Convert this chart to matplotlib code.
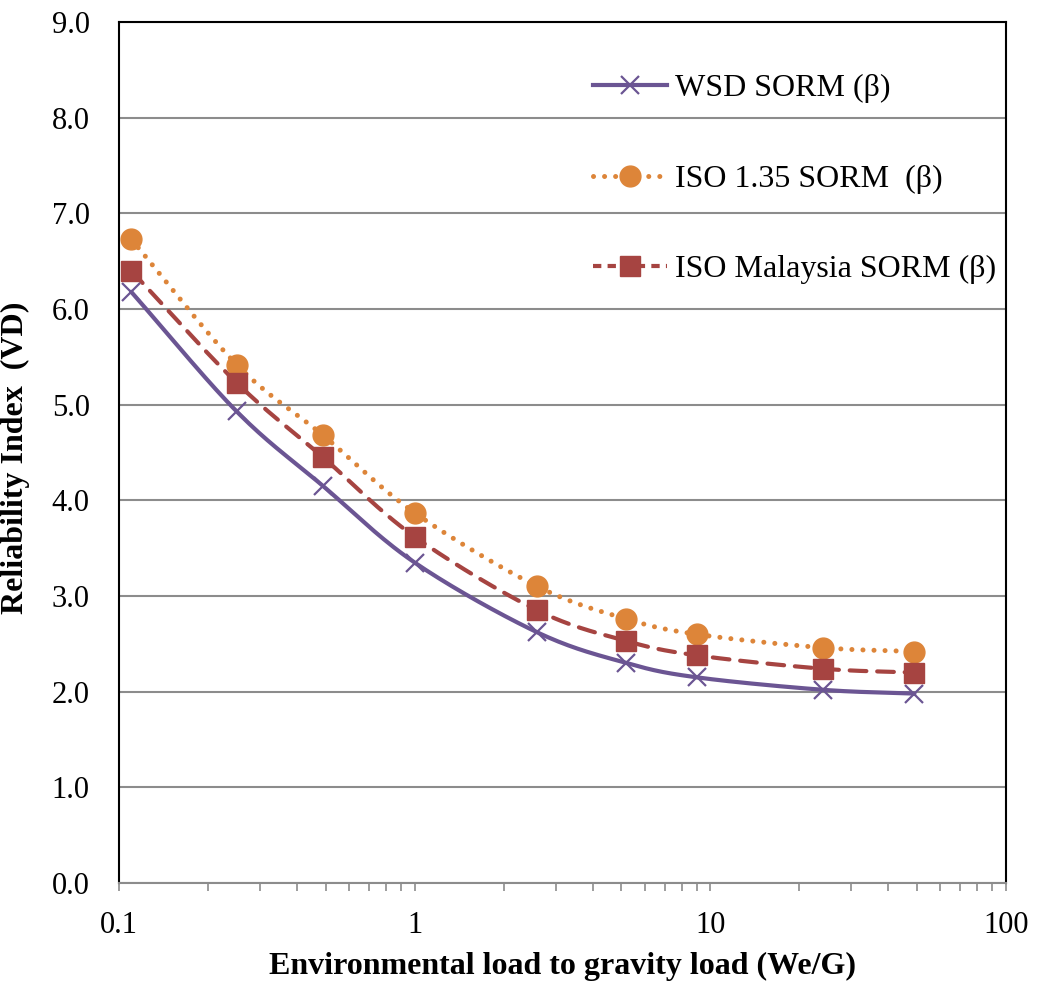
import matplotlib.pyplot as plt
import numpy as np
from matplotlib.lines import Line2D
from matplotlib.ticker import FixedLocator, LogLocator, NullFormatter

# values
load_ratio = [0.11, 0.25, 0.49, 1.0, 2.6, 5.2, 9.0, 24.0, 49.0]
wsd_sorm = [6.18, 4.93, 4.15, 3.35, 2.62, 2.30, 2.15, 2.02, 1.98]
iso_135_sorm = [6.73, 5.42, 4.68, 3.87, 3.10, 2.76, 2.60, 2.46, 2.42]
iso_malaysia_sorm = [6.40, 5.23, 4.45, 3.62, 2.85, 2.53, 2.38, 2.24, 2.20]

labels = ["WSD SORM (\u03b2)", "ISO 1.35 SORM  (\u03b2)", "ISO Malaysia SORM (\u03b2)"]

PURPLE = "#6b5593"
ORANGE = "#dd8539"
RED = "#a64441"

plt.rcParams["font.family"] = ["Liberation Serif", "DejaVu Serif"]


def smooth(x, y, n=30):
    # Catmull-Rom through the points, worked out roughly in screen space
    # (log x and y scaled like the axes) the way Excel smooths lines
    px = np.log10(np.asarray(x, float)) * 296.0
    py = np.asarray(y, float) * 95.7
    pts = np.column_stack([px, py])
    pts = np.vstack([pts[0] - (pts[1] - pts[0]), pts, pts[-1] + (pts[-1] - pts[-2])])
    out = []
    t = np.linspace(0, 1, n)[:, None]
    for i in range(1, len(pts) - 2):
        p0, p1, p2, p3 = pts[i - 1], pts[i], pts[i + 1], pts[i + 2]
        seg = 0.5 * (2 * p1 + (-p0 + p2) * t + (2 * p0 - 5 * p1 + 4 * p2 - p3) * t**2
                     + (-p0 + 3 * p1 - 3 * p2 + p3) * t**3)
        out.append(seg if i == 1 else seg[1:])
    out = np.vstack(out)
    return 10 ** (out[:, 0] / 296.0), out[:, 1] / 95.7


fig = plt.figure(figsize=(10.38, 9.83), dpi=100)
ax = fig.add_axes([0.1146, 0.1017, 0.8546, 0.8759])

sx, sy = smooth(load_ratio, wsd_sorm)
ax.plot(sx, sy, color=PURPLE, lw=3.0, solid_capstyle="round", zorder=3)
ax.plot(load_ratio, wsd_sorm, ls="none", marker="x", ms=13, mew=1.6, color=PURPLE, zorder=4)

sx, sy = smooth(load_ratio, iso_135_sorm)
ax.plot(sx, sy, color=ORANGE, lw=3.6, ls=(0, (0.01, 2.2)), dash_capstyle="round", zorder=3)
ax.plot(load_ratio, iso_135_sorm, ls="none", marker="o", ms=15, color=ORANGE, mec=ORANGE, zorder=4)

sx, sy = smooth(load_ratio, iso_malaysia_sorm)
ax.plot(sx, sy, color=RED, lw=3.0, ls=(0, (4, 2.6)), dash_capstyle="round", zorder=3)
ax.plot(load_ratio, iso_malaysia_sorm, ls="none", marker="s", ms=14, color=RED, mec=RED, zorder=4)

ax.set_xscale("log")
ax.set_xlim(0.1, 100)
ax.set_ylim(0, 9)
ax.set_yticks(np.arange(0, 9.5, 1.0))
ax.set_yticklabels([f"{v:.1f}" for v in np.arange(0, 9.5, 1.0)])
ax.xaxis.set_major_locator(FixedLocator([0.1, 1, 10, 100]))
ax.set_xticklabels(["0.1", "1", "10", "100"])
ax.xaxis.set_minor_locator(LogLocator(base=10, subs=np.arange(2, 10)))
ax.xaxis.set_minor_formatter(NullFormatter())

ax.grid(axis="y", color="#8c8c8c", lw=1.5)
ax.set_axisbelow(True)

for side in ["top", "left", "right"]:
    ax.spines[side].set_color("black")
    ax.spines[side].set_linewidth(1.5)
ax.spines["bottom"].set_color("#8c8c8c")
ax.spines["bottom"].set_linewidth(1.5)

ax.tick_params(axis="y", length=0, pad=21, labelsize=22)
ax.tick_params(axis="x", which="both", direction="out", length=6, width=1.2,
               color="#8c8c8c", pad=14, labelsize=22)

ax.set_xlabel("Environmental load to gravity load (We/G)", fontsize=23, fontweight="bold", labelpad=9)
ax.set_ylabel("Reliability Index  (VD)", fontsize=23, fontweight="bold", labelpad=13)
ax.yaxis.set_label_coords(-0.1, 0.494)

handles = [
    Line2D([], [], color=PURPLE, lw=3.0, marker="x", ms=13, mew=1.6),
    Line2D([], [], color=ORANGE, lw=3.6, ls=(0, (0.01, 2.2)), dash_capstyle="round",
           marker="o", ms=15),
    Line2D([], [], color=RED, lw=3.0, ls=(0, (2, 1.5)), marker="s", ms=14),
]
ax.legend(handles, labels, loc="upper right", bbox_to_anchor=(1.0135, 0.966), frameon=False,
          fontsize=23, handlelength=2.3, handletextpad=0.25, labelspacing=1.92,
          borderaxespad=0.3)

fig.savefig("out.png", dpi=100)
